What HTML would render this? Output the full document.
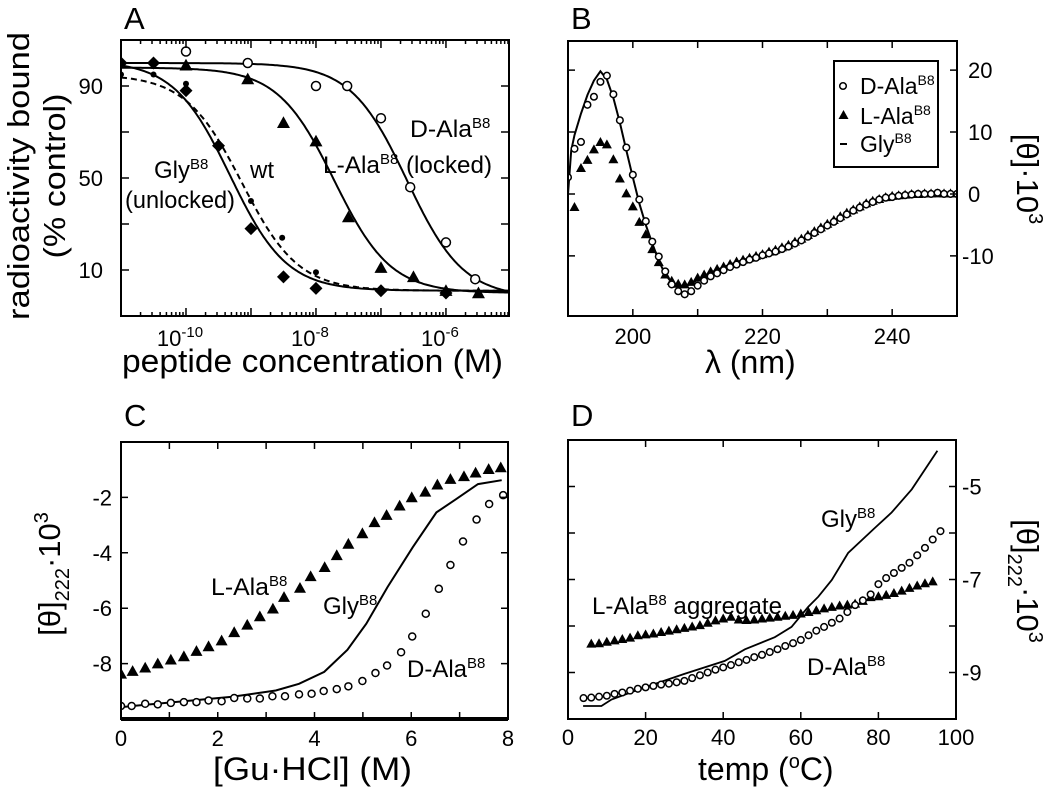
<!DOCTYPE html>
<html><head><meta charset="utf-8">
<style>
html,body{margin:0;padding:0;background:#fff;}
svg{display:block;font-family:"Liberation Sans",Arial,sans-serif;}
text{fill:#000;}
</style></head>
<body>
<svg id="fig" width="1050" height="794" viewBox="0 0 1050 794">
<!-- Panel letters -->
<text x="124" y="29" font-size="31">A</text>
<text x="571" y="29" font-size="31">B</text>
<text x="124" y="426" font-size="31">C</text>
<text x="571" y="426" font-size="31">D</text>

<!-- Panel A titles -->
<text transform="translate(29,176) rotate(-90)" text-anchor="middle" font-size="31" textLength="288" lengthAdjust="spacingAndGlyphs">radioactivity bound</text>
<text transform="translate(65,176) rotate(-90)" text-anchor="middle" font-size="31" textLength="165" lengthAdjust="spacingAndGlyphs">(% control)</text>
<text x="122" y="372" font-size="32" textLength="381" lengthAdjust="spacingAndGlyphs">peptide concentration (M)</text>
<text x="410" y="137" font-size="24" textLength="62" lengthAdjust="spacingAndGlyphs">D-Ala</text>
<text x="472" y="128" font-size="15">B8</text>
<text x="406" y="173" font-size="24" textLength="86" lengthAdjust="spacingAndGlyphs">(locked)</text>
<text x="323" y="173" font-size="24" textLength="57" lengthAdjust="spacingAndGlyphs">L-Ala</text>
<text x="380" y="164" font-size="15">B8</text>
<text x="154" y="178" font-size="24">Gly<tspan font-size="15" dy="-9">B8</tspan></text>
<text x="125" y="208" font-size="24" textLength="110" lengthAdjust="spacingAndGlyphs">(unlocked)</text>
<text x="250" y="178" font-size="24">wt</text>

<!-- Panel B titles -->
<text x="705" y="373" font-size="32">λ (nm)</text>
<text transform="translate(1017,179) rotate(90)" text-anchor="middle" font-size="31">[θ]·10<tspan font-size="20" dy="-12">3</tspan></text>
<rect x="834" y="61" width="104" height="106" fill="#fff" stroke="#000" stroke-width="2"/>
<text x="860" y="94" font-size="23">D-Ala<tspan font-size="14" dy="-9">B8</tspan></text>
<text x="860" y="124" font-size="23">L-Ala<tspan font-size="14" dy="-9">B8</tspan></text>
<text x="860" y="152" font-size="23">Gly<tspan font-size="14" dy="-9">B8</tspan></text>
<circle cx="843" cy="86" r="3.3" fill="#fff" stroke="#000" stroke-width="1.5"/>
<path d="M838.5,119 L843.5,110 L848.5,119 Z" fill="#000"/>
<line x1="840" y1="144" x2="847" y2="144" stroke="#000" stroke-width="2"/>

<!-- Panel C titles -->
<text x="213" y="780" font-size="32" textLength="199" lengthAdjust="spacingAndGlyphs">[Gu·HCl] (M)</text>
<text transform="translate(60,574) rotate(-90)" text-anchor="middle" font-size="31">[θ]<tspan font-size="20" dy="9">222</tspan><tspan dy="-9">·10</tspan><tspan font-size="20" dy="-12">3</tspan></text>
<text x="211" y="595" font-size="24" textLength="58" lengthAdjust="spacingAndGlyphs">L-Ala</text>
<text x="269" y="586" font-size="15">B8</text>
<text x="323" y="614" font-size="24">Gly<tspan font-size="15" dy="-9">B8</tspan></text>
<text x="407" y="677" font-size="24" textLength="60" lengthAdjust="spacingAndGlyphs">D-Ala</text>
<text x="467" y="668" font-size="15">B8</text>

<!-- Panel D titles -->
<text x="698" y="780" font-size="32">temp (<tspan font-size="20" dy="-12">o</tspan><tspan dy="12">C)</tspan></text>
<text transform="translate(1017,581) rotate(90)" text-anchor="middle" font-size="31">[θ]<tspan font-size="20" dy="9">222</tspan><tspan dy="-9">·10</tspan><tspan font-size="20" dy="-12">3</tspan></text>
<text x="821" y="527" font-size="24">Gly<tspan font-size="15" dy="-9">B8</tspan></text>
<text x="592" y="614" font-size="24" textLength="190" lengthAdjust="spacingAndGlyphs">L-Ala<tspan font-size="15" dy="-9">B8</tspan><tspan dy="9"> aggregate</tspan></text>
<text x="807" y="675" font-size="24" textLength="60" lengthAdjust="spacingAndGlyphs">D-Ala</text>
<text x="867" y="666" font-size="15">B8</text>
</svg>

<script>
// ===== Panel A data (log10 concentration, % control) =====
const aDAlaX = [-10, -9.05, -8, -7.52, -7, -6.55, -6, -5.55];
const aDAlaY = [105, 100, 90, 90, 76, 46, 22, 6];
const aLAlaX = [-10, -9.05, -8.5, -8, -7.5, -7, -6.5, -6, -5.5];
const aLAlaY = [99, 93, 74, 66, 33, 11, 7, 1, 0];
const aGlyX = [-11, -10.5, -10, -9.5, -9, -8.5, -8, -7, -6];
const aGlyY = [100, 100, 88, 64, 28, 7, 2, 1, 0];
const aWtX = [-11, -10.5, -10, -9.5, -9, -8.52, -8, -7, -6, -5];
const aWtY = [95, 95, 91, 65, 40, 24, 9, 1, 0, 1];
const fitNames = ['d-ala', 'l-ala', 'gly', 'wt'];
const fitTop = [100, 98, 101, 95];
const fitBottom = [-2, 0, 1, 1];
const fitLogIC50 = [-6.6, -7.72, -9.32, -9.14];
const aXTickLabels = ['-10', '-8', '-6'];
const aYTickLabels = ['90', '50', '10'];

// ===== Panel B data (nm, [theta]·10^3) =====
const bDAlaX = [190,191,192,193,194,195,196,197,198,199,200,201,202,203,204,205,206,207,208,209,210,211,212,213,214,215,216,217,218,219,220,221,222,223,224,225,226,227,228,229,230,231,232,233,234,235,236,237,238,239,240,241,242,243,244,245,246,247,248,249,250];
const bDAlaY = [2.7,7.3,8.4,14.4,15.7,18.1,19.1,16.1,11.9,7.5,3.1,-0.9,-4.4,-7.7,-10.1,-12.5,-14.6,-15.7,-16.2,-15.7,-14.8,-14,-13.3,-12.8,-12.3,-11.8,-11.4,-11,-10.6,-10.3,-9.9,-9.6,-9.3,-8.9,-8.5,-8,-7.5,-6.9,-6.3,-5.7,-5.1,-4.5,-3.9,-3.3,-2.7,-2.2,-1.7,-1.3,-0.9,-0.6,-0.5,-0.3,-0.2,-0.1,0,0,0,0.2,0,0,0];
const bLAlaX = [191,192,193,194,195,196,197,198,199,200,201,202,203,204,205,206,207,208,209,210,211,212,213,214,215,216,217,218,219,220,221,222,223,224,225,226,227,228,229,230,231,232,233,234,235,236,237,238,239,240,241,242,243,244,245,246,247,248,249,250];
const bLAlaY = [-2.1,4.2,5.5,7.2,8.4,8.0,5.6,2.5,0.1,-2.0,-4.5,-6.5,-8.9,-11,-13,-14,-14.5,-14.6,-14.2,-13.5,-13,-12.5,-12.1,-11.7,-11.3,-10.9,-10.6,-10.3,-10,-9.7,-9.3,-9,-8.6,-8.2,-7.7,-7.2,-6.6,-6,-5.4,-4.8,-4.2,-3.6,-3,-2.5,-2,-1.5,-1.1,-0.8,-0.5,-0.3,-0.2,-0.1,0,0,0.1,0.1,0.1,0.1,0.1,0.1];
const bGlyX = [190,190.5,191,192,193,194,195,196,197,198,199,200,201,202,203,204,205,206,207,208,209,210,212,214,216,218,220,222,224,226,228,230,232,234,236,238,240,242,244,246,248,250];
const bGlyY = [0,7,9.5,13,16,18.3,19.8,18.5,15.5,11.5,7,2.7,-1.5,-5,-8,-10.8,-13,-14.3,-14.8,-14.9,-14.5,-13.8,-12.7,-11.8,-11,-10.3,-9.8,-9.1,-8.3,-7.3,-6.1,-4.9,-3.7,-2.6,-1.6,-0.9,-0.4,-0.2,0,0,0.1,0.1];
const bXTickLabels = ['200', '220', '240'];
const bYTickLabels = ['20', '10', '0', '-10'];

// ===== Panel C data ([GuHCl] M, [theta]222·10^3) =====
const cLAlaX = [0,0.24,0.5,0.76,1.03,1.3,1.56,1.81,2.08,2.34,2.61,2.87,3.14,3.37,3.7,3.92,4.21,4.46,4.7,4.99,5.24,5.49,5.76,6.01,6.29,6.54,6.81,7.09,7.33,7.6,7.85];
const cLAlaY = [-8.37,-8.27,-8.15,-8.0,-7.86,-7.74,-7.55,-7.38,-7.17,-6.87,-6.6,-6.3,-6.02,-5.6,-5.27,-4.85,-4.52,-4.09,-3.68,-3.3,-2.9,-2.64,-2.3,-2.0,-1.8,-1.54,-1.34,-1.24,-1.11,-0.98,-0.92];
const cDAlaX = [0,0.22,0.5,0.76,1.03,1.3,1.56,1.81,2.08,2.34,2.61,2.87,3.13,3.39,3.68,3.94,4.19,4.46,4.7,4.99,5.26,5.5,5.79,6.02,6.3,6.57,6.81,7.07,7.35,7.61,7.9];
const cDAlaY = [-9.53,-9.53,-9.45,-9.47,-9.42,-9.39,-9.39,-9.33,-9.36,-9.24,-9.26,-9.26,-9.18,-9.18,-9.11,-9.09,-8.99,-8.92,-8.82,-8.63,-8.34,-8.07,-7.59,-7.02,-6.2,-5.3,-4.44,-3.59,-2.8,-2.24,-1.92];
const cGlyX = [0,2.3,3.2,3.68,4.2,4.68,5.07,5.51,6.03,6.52,6.93,7.38,7.87];
const cGlyY = [-9.57,-9.2,-8.97,-8.73,-8.3,-7.5,-6.56,-5.24,-3.8,-2.54,-2.06,-1.52,-1.38];
const cXTickLabels = ['0', '2', '4', '6', '8'];
const cYTickLabels = ['-2', '-4', '-6', '-8'];

// ===== Panel D data (temp C, [theta]222·10^3) =====
const dGlyX = [3.9,8.6,11.2,19.8,30,40.4,45.6,53.3,57.6,61.9,64.5,68,72.2,79.1,83.4,88.6,95.2];
const dGlyY = [-9.72,-9.72,-9.58,-9.32,-9.03,-8.75,-8.5,-8.24,-8.02,-7.59,-7.37,-7.01,-6.43,-5.89,-5.56,-5.06,-4.23];
const dDAlaX = [4,6,8,10,12,14,16,18,20,22,24,26,28,30,32,34,36,38,40,42,44,46,48,50,52,54,56,58,60,62,64,66,68,70,72,74,76,78,80,82,84,86,88,90,92,94,96];
const dDAlaY = [-9.55,-9.54,-9.52,-9.5,-9.46,-9.43,-9.39,-9.35,-9.32,-9.29,-9.26,-9.24,-9.21,-9.18,-9.12,-9.06,-9.0,-8.94,-8.89,-8.84,-8.78,-8.73,-8.67,-8.62,-8.56,-8.5,-8.43,-8.37,-8.3,-8.2,-8.1,-8.02,-7.93,-7.84,-7.7,-7.55,-7.45,-7.32,-7.1,-6.97,-6.86,-6.75,-6.64,-6.48,-6.32,-6.14,-5.96];
const dLAlaX = [6,8,10,12,14,16,18,20,22,24,26,28,30,32,34,36,38,40,42,44,46,48,50,52,54,56,58,60,62,64,66,68,70,72,74,76,78,80,82,84,86,88,90,92,94];
const dLAlaY = [-8.38,-8.37,-8.34,-8.31,-8.28,-8.25,-8.2,-8.18,-8.16,-8.13,-8.1,-8.07,-8.04,-8.01,-7.98,-7.93,-7.88,-7.84,-7.8,-7.86,-7.87,-7.86,-7.84,-7.82,-7.8,-7.78,-7.76,-7.73,-7.7,-7.66,-7.62,-7.59,-7.56,-7.54,-7.52,-7.46,-7.38,-7.36,-7.33,-7.29,-7.24,-7.18,-7.13,-7.08,-7.04];
const dXTickLabels = ['0', '20', '40', '60', '80', '100'];
const dYTickLabels = ['-5', '-7', '-9'];

const NS = 'http://www.w3.org/2000/svg';
const svg = document.getElementById('fig');
function mk(tag, attrs, parent) {
  const e = document.createElementNS(NS, tag);
  for (const k in attrs) e.setAttribute(k, attrs[k]);
  (parent || svg).appendChild(e);
  return e;
}
function scale(d0, d1, r0, r1) { return v => r0 + (v - d0) / (d1 - d0) * (r1 - r0); }

function panel(name, box, xd, yd) {
  const g = mk('g', {});
  
  
  const clip = mk('clipPath', {id: 'clip-' + name}, g);
  mk('rect', {x: box.x, y: box.y, width: box.w, height: box.h}, clip);
  const sx = scale(xd[0], xd[1], box.x, box.x + box.w);
  const sy = scale(yd[0], yd[1], box.y + box.h, box.y);
  const plot = mk('g', {'clip-path': 'url(#clip-' + name + ')'}, g);
  
  
  return {g, plot, sx, sy, box};
}
function frame(P, name, bottomW) {
  const b = P.box;
  const r = mk('rect', {x: b.x, y: b.y, width: b.w, height: b.h, fill: 'none', stroke: '#000', 'stroke-width': 2}, P.g);
  
  
  if (bottomW) {
    const l = mk('line', {x1: b.x, x2: b.x + b.w, y1: b.y + b.h, y2: b.y + b.h, stroke: '#000', 'stroke-width': bottomW}, P.g);
    
    
  }
}
function xtick(P, v, len, name) {
  const x = P.sx(v), b = P.box;
  const t = mk('path', {d: `M${x},${b.y + b.h}v${-len}M${x},${b.y}v${len}`, stroke: '#000', 'stroke-width': 1.5}, P.g);
  
  
}
function ytick(P, v, len, name) {
  const y = P.sy(v), b = P.box;
  const t = mk('path', {d: `M${b.x},${y}h${len}M${b.x + b.w},${y}h${-len}`, stroke: '#000', 'stroke-width': 1.5}, P.g);
  
  
}
function label(x, y, txt, anchor, name, size) {
  const t = mk('text', {x: x, y: y, 'text-anchor': anchor, 'font-size': size || 22});
  t.textContent = txt;
  
  
  return t;
}
function line(P, xs, ys, name, dash, w) {
  const d = xs.map((v, i) => (i ? 'L' : 'M') + P.sx(v).toFixed(1) + ',' + P.sy(ys[i]).toFixed(1)).join('');
  const p = mk('path', {d: d, fill: 'none', stroke: '#000', 'stroke-width': w || 2, 'stroke-dasharray': dash || 'none'}, P.plot);
  
  
}
function marks(P, xs, ys, kind, size, name) {
  const g = mk('g', {}, P.plot);
  
  
  xs.forEach((v, i) => {
    const x = P.sx(v), y = P.sy(ys[i]);
    let e;
    if (kind === 'circle') e = mk('circle', {cx: x, cy: y, r: size, fill: '#fff', stroke: '#000', 'stroke-width': 1.5}, g);
    else if (kind === 'dot') e = mk('circle', {cx: x, cy: y, r: size, fill: '#000'}, g);
    else if (kind === 'tri') e = mk('path', {d: `M${x - size},${y + size * 0.8}L${x},${y - size}L${x + size},${y + size * 0.8}Z`, fill: '#000'}, g);
    else e = mk('path', {d: `M${x},${y - size}L${x + size},${y}L${x},${y + size}L${x - size},${y}Z`, fill: '#000'}, g);
    
    
  });
}

// ---------- Panel A ----------
const A = panel('panel-a', {x: 121, y: 40, w: 388, h: 276}, [-11, -5.03], [-10, 110]);
for (let dec = -11; dec <= -6; dec++) {
  xtick(A, dec, 8, 'panel-a-x-major-tick');
  for (let m = 2; m <= 9; m++) {
    const v = dec + Math.log10(m);
    if (v < -5.03) xtick(A, v, 4, 'panel-a-x-minor-tick');
  }
}
[10, 30, 50, 70, 90].forEach(v => ytick(A, v, 8, 'panel-a-y-tick'));
[-10, -8, -6].forEach((v, i) => {
  const t = label(A.sx(v) - 6, 346, '10', 'middle', 'panel-a-x-tick-label', 22);
  const s = mk('tspan', {'font-size': 15, dy: -9});
  s.textContent = aXTickLabels[i];
  t.appendChild(s);
});
[90, 50, 10].forEach((v, i) => label(103, A.sy(v) + 8, aYTickLabels[i], 'end', 'panel-a-y-tick-label', 22));
const grid = [];
for (let k = 0; k <= 200; k++) grid.push(-11 + k * 0.03);
fitNames.forEach((n, j) => {
  const ys = grid.map(lx => fitBottom[j] + (fitTop[j] - fitBottom[j]) / (1 + Math.pow(10, lx - fitLogIC50[j])));
  line(A, grid, ys, 'fit-curve-' + n, n === 'wt' ? '6,4' : null, 2);
});
marks(A, aDAlaX, aDAlaY, 'circle', 4.5, 'series-d-ala-a');
marks(A, aLAlaX, aLAlaY, 'tri', 6.5, 'series-l-ala-a');
marks(A, aGlyX, aGlyY, 'diamond', 6.5, 'series-gly-a');
marks(A, aWtX, aWtY, 'dot', 3, 'series-wt-a');
frame(A, 'panel-a');

// ---------- Panel B ----------
const B = panel('panel-b', {x: 568, y: 41, w: 389, h: 275}, [190, 250], [-19.7, 24.7]);
[200, 210, 220, 230, 240].forEach(v => xtick(B, v, 7, 'panel-b-x-tick'));
[20, 10, 0, -10].forEach(v => ytick(B, v, 7, 'panel-b-y-tick'));
[200, 220, 240].forEach((v, i) => label(B.sx(v), 344, bXTickLabels[i], 'middle', 'panel-b-x-tick-label', 22));
[20, 10, 0, -10].forEach((v, i) => label(v < 0 ? 962 : 968, B.sy(v) + 8, bYTickLabels[i], 'start', 'panel-b-y-tick-label', 22));
line(B, bGlyX, bGlyY, 'series-gly-b', null, 2);
marks(B, bLAlaX, bLAlaY, 'tri', 5, 'series-l-ala-b');
marks(B, bDAlaX, bDAlaY, 'circle', 3.3, 'series-d-ala-b');
frame(B, 'panel-b');

// ---------- Panel C ----------
const C = panel('panel-c', {x: 121, y: 442, w: 387, h: 277}, [0, 8], [-10, 0]);
for (let v = 1; v < 8; v++) xtick(C, v, 7, 'panel-c-x-tick');
[-2, -4, -6, -8].forEach(v => ytick(C, v, 7, 'panel-c-y-tick'));
[0, 2, 4, 6, 8].forEach((v, i) => label(C.sx(v), 746, cXTickLabels[i], 'middle', 'panel-c-x-tick-label', 22));
[-2, -4, -6, -8].forEach((v, i) => label(112, C.sy(v) + 8, cYTickLabels[i], 'end', 'panel-c-y-tick-label', 22));
line(C, cGlyX, cGlyY, 'series-gly-c', null, 2);
marks(C, cLAlaX, cLAlaY, 'tri', 6, 'series-l-ala-c');
marks(C, cDAlaX, cDAlaY, 'circle', 3.5, 'series-d-ala-c');
frame(C, 'panel-c', 4);

// ---------- Panel D ----------
const D = panel('panel-d', {x: 568, y: 440, w: 388, h: 279}, [0, 100], [-10, -4]);
[20, 40, 60, 80].forEach(v => xtick(D, v, 7, 'panel-d-x-tick'));
[-5, -6, -7, -8, -9].forEach(v => ytick(D, v, 7, 'panel-d-y-tick'));
[0, 20, 40, 60, 80, 100].forEach((v, i) => label(D.sx(v), 745, dXTickLabels[i], 'middle', 'panel-d-x-tick-label', 22));
[-5, -7, -9].forEach((v, i) => label(962, D.sy(v) + 8, dYTickLabels[i], 'start', 'panel-d-y-tick-label', 22));
marks(D, dLAlaX, dLAlaY, 'tri', 5, 'series-l-ala-d');
line(D, dGlyX, dGlyY, 'series-gly-d', null, 1.8);
marks(D, dDAlaX, dDAlaY, 'circle', 3.3, 'series-d-ala-d');
frame(D, 'panel-d');
</script>
</body></html>
